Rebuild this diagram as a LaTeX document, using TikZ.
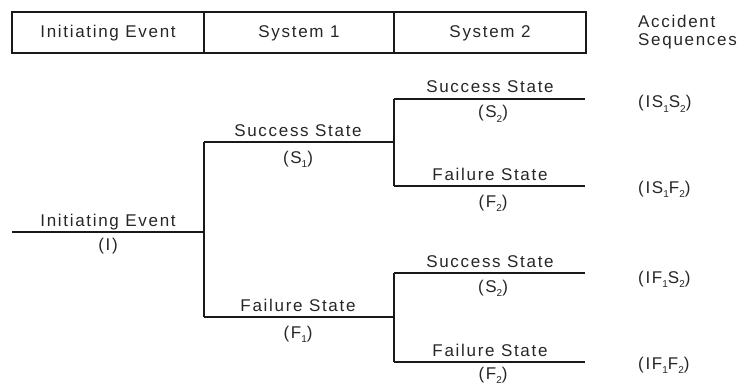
\documentclass[tikz,border=0pt]{standalone}
\usepackage{fontspec}
\setmainfont{Liberation Sans}[LetterSpace=10]
\newcommand\lsub[1]{\raisebox{-0.45ex}{\fontsize{10}{10}\selectfont #1}}
\begin{document}
\begin{tikzpicture}[x=1pt,y=-1pt,
  every node/.style={font=\fontsize{17}{20}\selectfont, text=black!85, inner sep=0pt},
  treeline/.style={line width=1.7pt, black!90},
  boxline/.style={line width=1.6pt, black!90},
  above lbl/.style={anchor=base},
  below lbl/.style={anchor=base},
  seq/.style={anchor=base west}]
\useasboundingbox (0,0) rectangle (744,385);
% header
\coordinate (h0) at (12,12);
\coordinate (h1) at (586,53);
\coordinate (d1t) at (204,12);
\coordinate (d1b) at (204,53);
\coordinate (d2t) at (394,12);
\coordinate (d2b) at (394,53);
\draw[boxline] (h0) rectangle (h1);
\draw[boxline] (d1t) -- (d1b);
\draw[boxline] (d2t) -- (d2b);
\node (hie) at (108,33) {Initiating Event};
\node (hs1) at (299,33) {System 1};
\node (hs2) at (490,33) {System 2};
\node[anchor=base west] (acc) at (638,28) {Accident};
\node[anchor=base west] (seqh) at (638,46) {Sequences};
% tree coordinates
\coordinate (ie0) at (12,232);
\coordinate (b0) at (204,232);
\coordinate (s1a) at (204,142);
\coordinate (f1a) at (204,317);
\coordinate (b1) at (394,142);
\coordinate (b2) at (394,317);
\coordinate (s2a) at (394,99);
\coordinate (f2a) at (394,186);
\coordinate (s2b) at (394,273);
\coordinate (f2b) at (394,362);
\coordinate (s2ae) at (585,99);
\coordinate (f2ae) at (585,186);
\coordinate (s2be) at (585,273);
\coordinate (f2be) at (585,362);
% lines
\draw[treeline] (ie0) -- (b0);
\draw[treeline] (s1a) -- (f1a);
\draw[treeline] (s1a) -- (b1);
\draw[treeline] (f1a) -- (b2);
\draw[treeline] (s2a) -- (f2a);
\draw[treeline] (s2b) -- (f2b);
\draw[treeline] (s2a) -- (s2ae);
\draw[treeline] (f2a) -- (f2ae);
\draw[treeline] (s2b) -- (s2be);
\draw[treeline] (f2b) -- (f2be);
% labels
\node[above lbl] (lie) at (108,226) {Initiating Event};
\node[below lbl] (lI) at (108,250) {(I)};
\node[above lbl] (ls1) at (298,136) {Success State};
\node[below lbl] (ls1b) at (298,163) {(S\lsub{1})};
\node[above lbl] (lf1) at (298,311) {Failure State};
\node[below lbl] (lf1b) at (298,338) {(F\lsub{1})};
\node[above lbl] (ls2a) at (490,93) {Success State};
\node[below lbl] (ls2ab) at (493,118) {(S\lsub{2})};
\node[above lbl] (lf2a) at (490,180) {Failure State};
\node[below lbl] (lf2ab) at (493,207) {(F\lsub{2})};
\node[above lbl] (ls2b) at (490,267) {Success State};
\node[below lbl] (ls2bb) at (493,292) {(S\lsub{2})};
\node[above lbl] (lf2b) at (490,356) {Failure State};
\node[below lbl] (lf2bb) at (493,379) {(F\lsub{2})};
% sequences
\node[seq] (q1) at (638,108) {(IS\lsub{1}S\lsub{2})};
\node[seq] (q2) at (638,193) {(IS\lsub{1}F\lsub{2})};
\node[seq] (q3) at (638,283) {(IF\lsub{1}S\lsub{2})};
\node[seq] (q4) at (638,369) {(IF\lsub{1}F\lsub{2})};
\end{tikzpicture}
\end{document}
